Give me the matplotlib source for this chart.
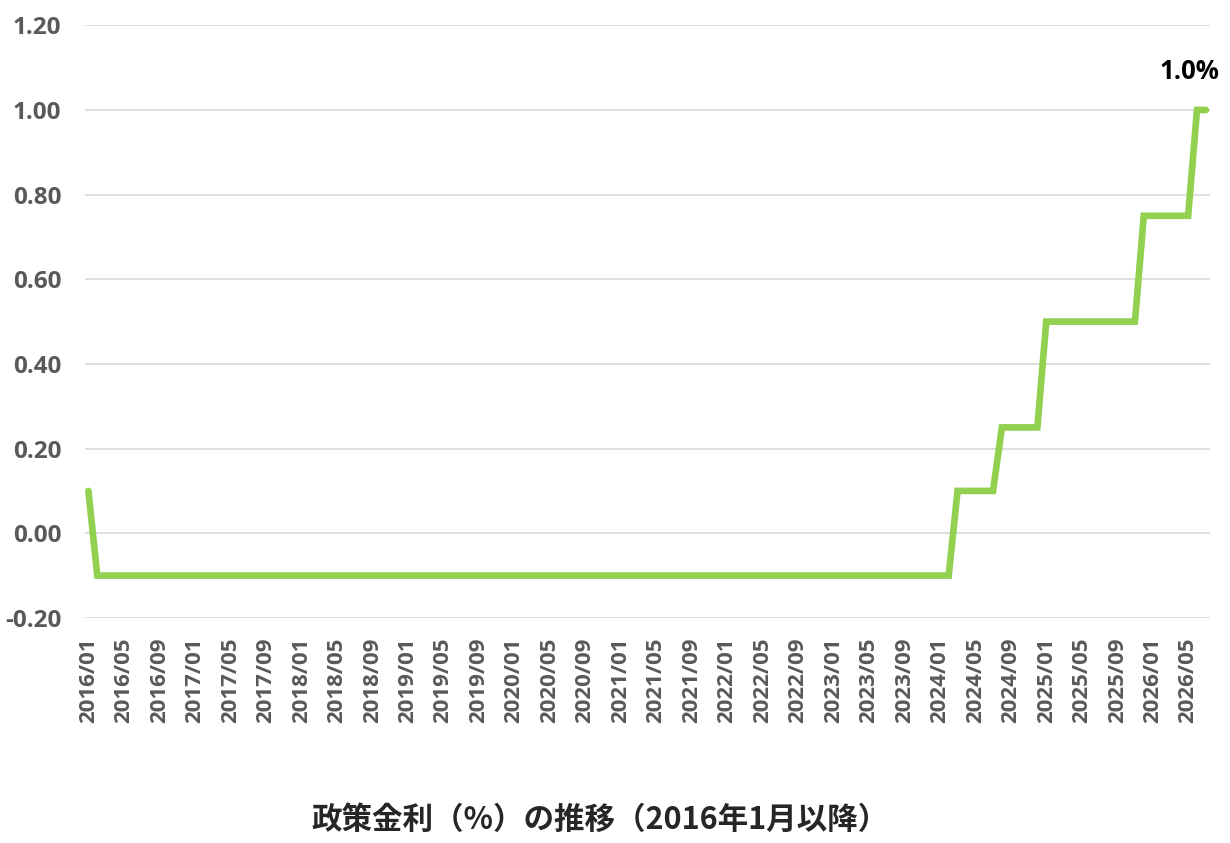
import matplotlib
matplotlib.use("Agg")
import matplotlib.pyplot as plt
import pandas as pd

# ---- data ----
months = [p.strftime("%Y/%m") for p in pd.period_range("2016-01", "2026-07", freq="M")]
rates = ([0.1] + [-0.1] * 97 + [0.1] * 5 + [0.25] * 5 + [0.5] * 11 + [0.75] * 6 + [1.0] * 2)
yticks = [-0.2, 0.0, 0.2, 0.4, 0.6, 0.8, 1.0, 1.2]
title = "政策金利（%）の推移（2016年1月以降）"
last_label = "1.0%"

plt.rcParams['font.family'] = ['Open Sans', 'DejaVu Sans']

fig = plt.figure(figsize=(12.3, 8.43), dpi=100)
ax = fig.add_axes([0.069, 0.267, 0.915, 0.703])

x = list(range(len(months)))
ax.plot(x, rates, color="#92D050", linewidth=4.8, solid_joinstyle="miter", solid_capstyle="round", zorder=3)

ax.set_ylim(-0.2, 1.2)
ax.set_xlim(-0.4, len(months) - 0.5)
ax.set_yticks(yticks)
ax.set_yticklabels([f"{v:.2f}" for v in yticks], fontsize=17.5, fontweight="bold", color="#595959")
tick_pos = x[::4]
ax.set_xticks(tick_pos)
ax.set_xticklabels([months[i] for i in tick_pos], rotation=90, fontsize=16, fontweight="bold", color="#595959")
ax.tick_params(axis="both", length=0)
ax.tick_params(axis="y", pad=17)
ax.tick_params(axis="x", pad=14)
ax.grid(axis="y", color="#D9D9D9", linewidth=1.2)
ax.set_axisbelow(True)
for s in ax.spines.values():
    s.set_visible(False)

ax.annotate(last_label, xy=(x[-1], rates[-1]), xytext=(-16, 38), textcoords="offset pixels",
            ha="center", va="center", fontsize=18.5, fontweight="bold", color="#000000")

fig.text(0.488, 0.028, title, ha="center", va="center", fontsize=22, fontweight="bold",
         color="#262626", family=["Noto Sans CJK JP", "DejaVu Sans"])

fig.savefig("out.png", dpi=100, facecolor="white")
